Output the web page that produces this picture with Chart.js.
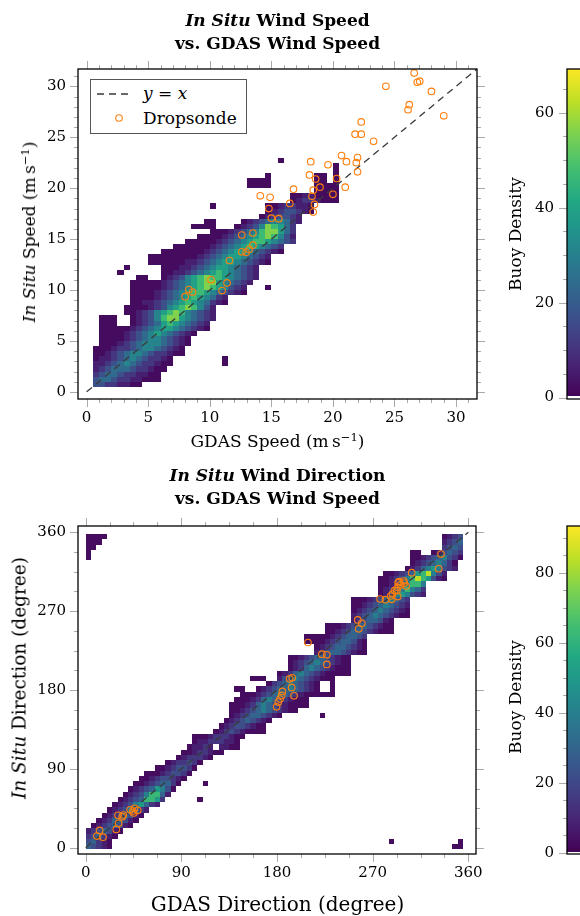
<!DOCTYPE html>
<html>
<head>
<meta charset="utf-8">
<script src="https://cdn.jsdelivr.net/npm/chart.js@4.4.1/dist/chart.umd.min.js"></script>
<style>
  html, body { margin: 0; padding: 0; background: #fff; }
  body { width: 580px; height: 916px; position: relative; overflow: hidden; font-family: 'DejaVu Serif', serif; color: #000; }
  canvas { position: absolute; }
  .t { position: absolute; white-space: nowrap; transform: translate(-50%, -50%); text-align: center; }
  .rot { transform: translate(-50%, -50%) rotate(-90deg); }
  .title { font-weight: bold; font-size: 17px; line-height: 23px; }
  .lab { font-size: 17px; }
  sup { font-size: 0.68em; vertical-align: baseline; position: relative; top: -0.5em; }
  #legend { position: absolute; left: 90px; top: 79px; width: 155px; height: 53px; border: 1.3px solid #555; background: #fff; }
  #legend svg { position: absolute; left: 0; top: 0; }
  #legend .e { position: absolute; left: 52px; font-size: 17px; transform: translateY(-50%); white-space: nowrap; }
</style>
</head>
<body>
<canvas id="speedChart" width="580" height="460" style="left:0;top:0"></canvas>
<canvas id="speedBar" width="110" height="460" style="left:490px;top:0"></canvas>
<canvas id="dirChart" width="580" height="456" style="left:0;top:460px"></canvas>
<canvas id="dirBar" width="110" height="456" style="left:490px;top:460px"></canvas>

<div class="t title" style="left:277.5px;top:32px"><i>In Situ</i> Wind Speed<br>vs. GDAS Wind Speed</div>
<div class="t lab" style="left:277.5px;top:441px">GDAS Speed (m&#8201;s<sup>&minus;1</sup>)</div>
<div class="t lab rot" style="left:29px;top:232px"><i>In Situ</i> Speed (m&#8201;s<sup>&minus;1</sup>)</div>
<div class="t lab rot" style="left:515px;top:234px">Buoy Density</div>

<div class="t title" style="left:277.5px;top:487px"><i>In Situ</i> Wind Direction<br>vs. GDAS Wind Speed</div>
<div class="t" style="left:277.5px;top:904px;font-size:20px">GDAS Direction (degree)</div>
<div class="t rot" style="left:19px;top:678px;font-size:18.5px"><i>In Situ</i> Direction (degree)</div>
<div class="t lab rot" style="left:515px;top:697px">Buoy Density</div>

<div id="legend">
  <svg width="155" height="53">
    <line x1="6" y1="14" x2="37" y2="14" stroke="#3a3a3a" stroke-width="1.3" stroke-dasharray="7,5"></line>
    <circle cx="28" cy="38" r="3.3" fill="none" stroke="#ff7f0e" stroke-width="1.1"></circle>
  </svg>
  <div class="e" style="top:13px"><i>y</i> = <i>x</i></div>
  <div class="e" style="top:38px">Dropsonde</div>
</div>

<script>
// ---- tick labels ----
const speedTicks = [0, 5, 10, 15, 20, 25, 30];
const dirTicks = [0, 90, 180, 270, 360];
const speedDensityTicks = [0, 20, 40, 60];
const dirDensityTicks = [0, 20, 40, 60, 80];

// ---- dropsonde points ----
const dropSpeedX = [8.0, 8.3, 8.6, 10.1, 11.0, 11.4, 11.6, 12.6, 12.95, 13.2, 13.5, 12.6, 13.5, 14.1, 14.9, 14.8, 15.0, 15.6, 16.5, 16.8,
  18.3, 18.4, 18.95, 18.5, 18.4, 20.0, 21.0, 20.3, 18.6, 18.1, 18.2, 19.6, 20.7, 21.1, 21.9, 22.0, 22.0, 22.3, 21.8, 22.3,
  23.3, 24.3, 26.2, 26.1, 26.6, 26.85, 27.05, 28.0, 29.0];
const dropSpeedY = [9.35, 10.05, 9.8, 11.0, 9.95, 10.7, 12.9, 13.75, 13.7, 14.0, 14.4, 15.4, 15.6, 19.25, 19.1, 18.0, 17.05, 17.0, 18.5, 19.9,
  19.2, 19.8, 20.1, 18.4, 17.65, 19.4, 20.1, 20.95, 20.9, 21.3, 22.6, 22.3, 23.2, 22.6, 22.5, 23.0, 21.6, 26.5, 25.3, 25.3,
  24.6, 30.0, 28.2, 27.7, 31.3, 30.4, 30.5, 29.5, 27.1];
const dropDirX = [13.1, 10.6, 16.3, 30.4, 35.4, 34.4, 31.0, 28.8, 41.9, 44.4, 46.0, 49.0, 45.2, 179.6, 181.2, 182.8, 184.4, 185.0, 193.8, 196.0,
  191.9, 194.3, 209.1, 222.2, 226.9, 226.9, 256.0, 259.8, 256.9, 277.0, 282.0, 288.0, 288.6, 287.0, 290.8, 293.6, 292.7, 294.0, 293.6, 296.4,
  299.2, 299.8, 301.4, 294.9, 306.7, 334.3, 332.1];
const dropDirY = [19.7, 13.3, 12.0, 36.9, 37.3, 35.4, 27.8, 20.8, 43.2, 41.8, 45.0, 42.6, 39.6, 160.8, 166.2, 169.6, 173.8, 178.4, 182.9, 173.4,
  192.8, 194.0, 234.2, 220.9, 220.2, 209.2, 260.0, 256.2, 249.8, 283.9, 283.1, 283.5, 289.6, 287.3, 293.7, 286.6, 293.4, 302.5, 297.2, 300.2,
  304.4, 302.1, 298.7, 303.6, 313.9, 335.1, 318.4];

// ---- buoy density bins: one entry per row of bins, [first column, levels] ----
// speed bins are 0.5 m/s wide, direction bins 5 deg wide and 6 deg tall
const speedLevels = [0, 2, 6, 11, 17, 24, 31, 39, 47, 56];
const speedRows = [
  [],
  [[1, "44332211"]],
  [[1, "45543322111"]],
  [[1, "34554332211"]],
  [[1, "234555433211"]],
  [[1, "2234565433211"], [22, "1"]],
  [[1, "1223456543321"], [22, "1"]],
  [[1, "112345665433211"]],
  [[1, "111233456654321"]],
  [[2, "111234566654321"]],
  [[2, "111123456654321"]],
  [[2, "1111234567654321"]],
  [[2, "111112345677654321"]],
  [[2, "111"], [7, "1234578765432"]],
  [[2, "111"], [7, "12346899765432"]],
  [[6, "112346789865432"]],
  [[6, "111123467898642"]],
  [[7, "1122345678765321"]],
  [[7, "1111234567876532"]],
  [[7, "1111234567887654321"]],
  [[7, "1111123456789876432"], [29, "1"]],
  [[7, "11111234567899765432"]],
  [[8, "11"], [12, "1234678988765432"]],
  [[5, "1"], [12, "1122345678765432"]],
  [[6, "1"], [12, "1112234567765432"]],
  [[10, "11111122345677654321"]],
  [[10, "11111111234567765432"]],
  [[12, "11111112345677654321"]],
  [[14, "111111234567876543"]],
  [[16, "111112345678876543"]],
  [[18, "1111234567898642"]],
  [[20, "11123456899753"]],
  [[17, "1111"], [24, "1234698753"]],
  [[19, "11"], [25, "1234566532"]],
  [[28, "1234432"]],
  [[29, "12344321"]],
  [[20, "1"], [29, "11233221"]],
  [[33, "12332111"]],
  [[33, "11221111"]],
  [[37, "1111"]],
  [[26, "1111"], [37, "1111"]],
  [[26, "1111"], [37, "11"], [40, "1"]],
  [[29, "1"], [37, "11"], [40, "1"]],
  [[40, "1"]],
  [[40, "1"]],
  [[31, "1"]]
];

const dirLevels = [0, 3, 8, 15, 22, 30, 40, 50, 62, 84];
const dirRows = [
  [[0, "54321"], [69, "11"]],
  [[0, "45321"], [57, "1"], [70, "1"]],
  [[0, "345321"]],
  [[0, "2345421"]],
  [[1, "12345421"]],
  [[2, "12355421"]],
  [[3, "12345421"]],
  [[4, "12346532"]],
  [[5, "123467532"]],
  [[6, "123458873"], [21, "1"]],
  [[7, "123468852"]],
  [[8, "123457641"]],
  [[9, "112345531"], [22, "1"]],
  [[10, "112344321"]],
  [[11, "111234431"]],
  [[13, "11234431"]],
  [[15, "1233431"]],
  [[17, "1233321"]],
  [[18, "11233211"]],
  [[19, "12232"], [25, "2211"]],
  [[20, "122333221"]],
  [[20, "1112333211"]],
  [[24, "1234321111"]],
  [[25, "123443211"]],
  [[26, "123454321"]],
  [[27, "1234554321"], [44, "1"]],
  [[27, "1123456543211"]],
  [[27, "111235654321111"]],
  [[28, "11123565432111"]],
  [[29, "111234565432111111"]],
  [[28, "11"], [32, "123455654321"], [46, "1"]],
  [[34, "1345654321"], [46, "1"]],
  [[31, "111"], [36, "24565432111"]],
  [[36, "12356543211111"]],
  [[38, "123565432111"]],
  [[38, "123456543211"]],
  [[38, "112345543211"]],
  [[43, "2345543211"]],
  [[43, "1234554321"]],
  [[41, "111123455421"]],
  [[41, "111112345543"]],
  [[45, "1123455432111"]],
  [[45, "1112345543211"]],
  [[50, "23455421"]],
  [[50, "23456543211"]],
  [[50, "12345654321"]],
  [[50, "11234565432"]],
  [[50, "11123456543"]],
  [[55, "124676432"]],
  [[55, "123568653"]],
  [[55, "112356886"]],
  [[55, "1123468987421"]],
  [[56, "112345789642"]],
  [[60, "1235676432"]],
  [[61, "123456531"]],
  [[0, "1"], [61, "1123456431"]],
  [[0, "1"], [61, "11"], [65, "124543"]],
  [[0, "11"], [67, "3454"]],
  [[0, "111"], [67, "2345"]],
  [[0, "1111"], [67, "1234"]]
];

// viridis colormap
const VIRIDIS = ['#440154', '#482475', '#414487', '#355f8d', '#2a788e', '#21918c', '#22a884', '#44bf70', '#7ad151', '#bddf26', '#fde725'];
function viridis(t) {
    t = Math.max(0, Math.min(1, t));
    const p = t * (VIRIDIS.length - 1);
    const i = Math.min(Math.floor(p), VIRIDIS.length - 2);
    const f = p - i;
    const a = parseInt(VIRIDIS[i].slice(1), 16), b = parseInt(VIRIDIS[i + 1].slice(1), 16);
    const mix = (sh) => Math.round(((a >> sh) & 255) * (1 - f) + ((b >> sh) & 255) * f);
    return 'rgb(' + mix(16) + ',' + mix(8) + ',' + mix(0) + ')';
}

/**
 * heatmap cells, drawn through the chart's x and y scales
 **/
function heatmap_plugin(grid) {
    return {
        id: 'heatmap',
        beforeDatasetsDraw(chart) {
            const { ctx, chartArea: a, scales: { x, y } } = chart;
            ctx.save();
            ctx.beginPath();
            ctx.rect(a.left, a.top, a.width, a.height);
            ctx.clip();
            grid.rows.forEach((segs, j) => {
                const yLo = grid.y0 + j * grid.dy;
                const top = Math.round(y.getPixelForValue(yLo + grid.dy));
                const bot = Math.round(y.getPixelForValue(yLo));
                segs.forEach(([start, str]) => {
                    [...str].forEach((ch, k) => {
                        if (ch === '.') return;
                        const xLo = grid.x0 + (start + k) * grid.dx;
                        const l = Math.round(x.getPixelForValue(xLo));
                        const r = Math.round(x.getPixelForValue(xLo + grid.dx));
                        ctx.fillStyle = viridis(grid.levels[+ch] / grid.vmax);
                        ctx.fillRect(l, top, r - l, bot - top);
                    });
                });
            });
            ctx.restore();
        }
    };
}

function draw_ticks(ctx, a, scale, from, to, step, majors, sides) {
    const n = Math.round((to - from) / step);
    ctx.strokeStyle = '#aaaaaa';
    ctx.lineWidth = 1;
    for (let k = 0; k <= n; k++) {
        const v = from + k * step;
        const len = majors.some(m => Math.abs(m - v) < 1e-6) ? 8 : 4;
        const p = Math.round(scale.getPixelForValue(v)) + 0.5;
        sides.forEach(side => {
            ctx.beginPath();
            if (side === 'bottom') { ctx.moveTo(p, a.bottom); ctx.lineTo(p, a.bottom + len); }
            if (side === 'top') { ctx.moveTo(p, a.top); ctx.lineTo(p, a.top - len); }
            if (side === 'left') { ctx.moveTo(a.left, p); ctx.lineTo(a.left - len, p); }
            if (side === 'right') { ctx.moveTo(a.right, p); ctx.lineTo(a.right + len, p); }
            ctx.stroke();
        });
    }
}

function frame_plugin(f) {
    return {
        id: 'frame',
        afterDraw(chart) {
            const { ctx, chartArea: a, scales: { x, y } } = chart;
            ctx.save();
            draw_ticks(ctx, a, x, f.from, f.to, f.step, f.majors, ['bottom', 'top']);
            draw_ticks(ctx, a, y, f.from, f.to, f.step, f.majors, ['left', 'right']);
            ctx.strokeStyle = '#000';
            ctx.lineWidth = 1.3;
            ctx.strokeRect(a.left, a.top, a.width, a.height);
            ctx.restore();
        }
    };
}

function colorbar_plugin(bar) {
    return {
        id: 'colorbar',
        afterDraw(chart) {
            const { ctx, chartArea: a, scales: { y } } = chart;
            ctx.save();
            for (let py = Math.floor(a.top); py < Math.ceil(a.bottom); py++) {
                const v = y.getValueForPixel(py + 0.5);
                ctx.fillStyle = v < bar.whiteBelow ? '#ffffff' : viridis(v / bar.vmax);
                ctx.fillRect(a.left, py, a.width, 1);
            }
            draw_ticks(ctx, a, y, 0, bar.tickTo, bar.step, bar.majors, ['left']);
            ctx.strokeStyle = '#000';
            ctx.lineWidth = 1.3;
            ctx.strokeRect(a.left, a.top, a.width, a.height);
            ctx.restore();
        }
    };
}

const tickFont = { family: "'DejaVu Serif', serif", size: 15 };

function axis_options(min, max, ticks, pad, fit) {
    return {
        type: 'linear', min: min, max: max,
        afterBuildTicks: (s) => { s.ticks = ticks.map(v => ({ value: v })); },
        afterFit: fit,
        ticks: { font: tickFont, color: '#000', padding: pad, maxRotation: 0, autoSkip: false },
        grid: { display: false, drawTicks: false },
        border: { display: false }
    };
}

/**
 * @function main_chart
 * @description density heatmap + dropsonde scatter + y = x line
 **/
function main_chart(id, c) {
    new Chart(document.getElementById(id), {
        type: 'scatter',
        data: {
            datasets: [{
                label: 'Dropsonde',
                data: c.px.map((v, i) => ({ x: v, y: c.py[i] })),
                pointStyle: 'circle',
                pointRadius: 3.3,
                borderColor: '#ff7f0e',
                backgroundColor: 'rgba(0,0,0,0)',
                borderWidth: 1.1
            }, {
                type: 'line',
                label: 'y = x',
                data: [{ x: 0, y: 0 }, { x: c.lineEnd, y: c.lineEnd }],
                borderColor: '#3a3a3a',
                borderDash: [7, 5],
                borderWidth: 1.3,
                pointRadius: 0,
                fill: false
            }]
        },
        options: {
            responsive: false,
            animation: false,
            devicePixelRatio: 1,
            layout: { padding: { left: 0, right: c.padRight, top: c.padTop, bottom: 0 } },
            plugins: { legend: { display: false }, tooltip: { enabled: false } },
            scales: {
                x: axis_options(c.min, c.max, c.ticks, 10, (s) => { s.height = c.xHeight; }),
                y: axis_options(c.min, c.max, c.ticks, 12, (s) => { s.width = 78; })
            }
        },
        plugins: [heatmap_plugin(c.grid), frame_plugin(c.frame)]
    });
}

function bar_chart(id, c) {
    new Chart(document.getElementById(id), {
        type: 'scatter',
        data: { datasets: [] },
        options: {
            responsive: false,
            animation: false,
            devicePixelRatio: 1,
            layout: { padding: { left: 0, right: 13, top: c.padTop, bottom: c.padBottom } },
            plugins: { legend: { display: false }, tooltip: { enabled: false } },
            scales: {
                x: { display: false, min: 0, max: 1 },
                y: axis_options(c.min, c.max, c.ticks, 13, (s) => { s.width = 77; })
            }
        },
        plugins: [colorbar_plugin(c.bar)]
    });
}

main_chart('speedChart', {
    px: dropSpeedX, py: dropSpeedY, lineEnd: 31.7,
    min: -0.7, max: 31.7, ticks: speedTicks,
    padRight: 103, padTop: 69, xHeight: 61,
    grid: { rows: speedRows, levels: speedLevels, x0: 0, dx: 0.5, y0: 0, dy: 0.5, vmax: 69.2 },
    frame: { from: 0, to: 31, step: 1, majors: speedTicks }
});
bar_chart('speedBar', {
    min: -0.3, max: 69.2, ticks: speedDensityTicks, padTop: 69, padBottom: 61,
    bar: { vmax: 69.2, whiteBelow: 0.35, tickTo: 65, step: 5, majors: speedDensityTicks }
});

main_chart('dirChart', {
    px: dropDirX, py: dropDirY, lineEnd: 360,
    min: -7.2, max: 367.2, ticks: dirTicks,
    padRight: 104, padTop: 66, xHeight: 62,
    grid: { rows: dirRows, levels: dirLevels, x0: 0, dx: 5, y0: -2, dy: 6, vmax: 93.4 },
    frame: { from: 0, to: 360, step: 22.5, majors: dirTicks }
});
bar_chart('dirBar', {
    min: -0.3, max: 93.4, ticks: dirDensityTicks, padTop: 66, padBottom: 62,
    bar: { vmax: 93.4, whiteBelow: 0.2, tickTo: 90, step: 5, majors: dirDensityTicks }
});
</script>
</body>
</html>
